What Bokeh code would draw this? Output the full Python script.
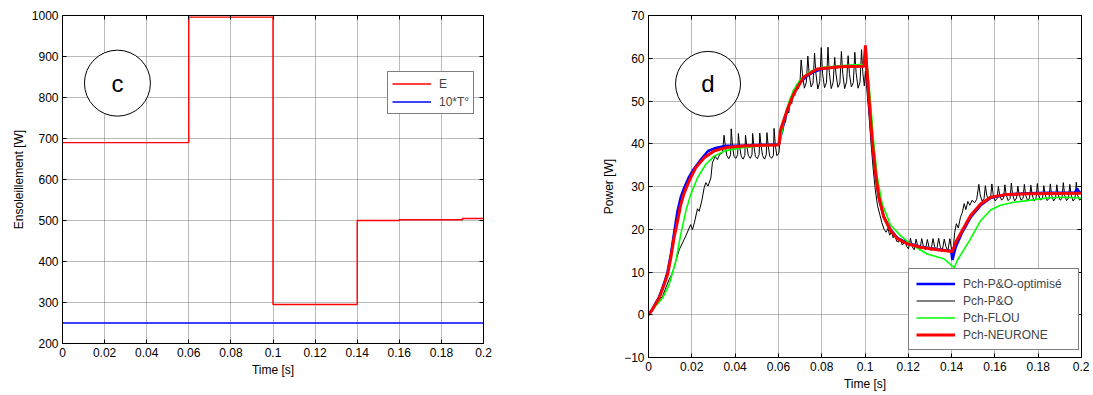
from bokeh.plotting import figure
from bokeh.layouts import row
from bokeh.models import (Range1d, FixedTicker, LinearAxis, Legend, LegendItem)
from bokeh.embed import file_html
from bokeh.resources import INLINE
from bokeh.core.properties import value

# ---------------- data ----------------
x_ticks = [0, 0.02, 0.04, 0.06, 0.08, 0.1, 0.12, 0.14, 0.16, 0.18, 0.2]
x_tick_labels = ["0", "0.02", "0.04", "0.06", "0.08", "0.1", "0.12", "0.14", "0.16", "0.18", "0.2"]
c_y_ticks = [200, 300, 400, 500, 600, 700, 800, 900, 1000]
d_y_ticks = [-10, 0, 10, 20, 30, 40, 50, 60, 70]

# panel c : irradiance steps and 10*T
E_t = [0, 0.06, 0.1, 0.14, 0.16, 0.19, 0.2]
E_v = [690, 996, 295, 500, 502, 505, 505]
T_t = [0, 0.2]
T_v = [250, 250]

# panel d : power curves
blue_t = [0, 0.0018, 0.0049, 0.0072, 0.0088, 0.0103, 0.0118, 0.0134, 0.0149, 0.0165, 0.0185,
          0.0203, 0.0242, 0.0275, 0.031, 0.036, 0.044, 0.05, 0.06, 0.0605, 0.062, 0.064, 0.066,
          0.068, 0.07, 0.073, 0.076, 0.08, 0.085, 0.09, 0.095, 0.0998, 0.1003, 0.1008, 0.1018,
          0.1033, 0.1049, 0.1064, 0.1087, 0.1118, 0.1149, 0.1195, 0.1256, 0.1333, 0.1398, 0.1404,
          0.1412, 0.142, 0.1449, 0.1488, 0.1534, 0.158, 0.165, 0.175, 0.185, 0.197, 0.198, 0.199, 0.2]
blue_v = [0, 1.3, 4.1, 7.3, 10.0, 14.0, 19.0, 24.2, 27.5, 29.7, 32.0,
          33.6, 36.3, 38.3, 39.0, 39.5, 39.6, 39.7, 39.8, 40.5, 43.8, 47.8, 50.7,
          52.8, 54.3, 55.8, 56.7, 57.5, 57.9, 58.1, 58.2, 58.2, 62.0, 57.5, 50.5,
          40.5, 32.8, 27.4, 22.9, 19.9, 18.0, 16.8, 15.9, 15.3, 14.9, 12.8,
          14.5, 16.0, 19.3, 22.8, 25.6, 27.3, 28.1, 28.4, 28.5, 28.6, 29.5, 28.6, 28.6]

black_t = [0, 0.0034, 0.0065, 0.008, 0.0095, 0.0111, 0.0126, 0.0142, 0.0157, 0.0172, 0.0188,
           0.0195, 0.0203, 0.0212, 0.0226, 0.0234, 0.0246, 0.0257, 0.0265, 0.0275, 0.0288,
           0.0295, 0.0308, 0.0318, 0.0329, 0.0342,
           0.0349, 0.0355, 0.0362, 0.0371, 0.0379,
           0.0382, 0.0388, 0.0395, 0.0404, 0.0412,
           0.0415, 0.0421, 0.0428, 0.0437, 0.0445,
           0.0448, 0.0454, 0.0461, 0.047, 0.0478,
           0.0481, 0.0487, 0.0494, 0.0503, 0.0511,
           0.0514, 0.052, 0.0527, 0.0536, 0.0544,
           0.0547, 0.0553, 0.056, 0.0569, 0.0577,
           0.058, 0.0586, 0.0593, 0.0602,
           0.0608, 0.0615, 0.062, 0.0627, 0.0633, 0.064, 0.0648, 0.0655, 0.0662, 0.0669,
           0.0676, 0.0684, 0.0692, 0.07,
           0.0705, 0.0711, 0.072, 0.0729,
           0.0736, 0.0742, 0.0751, 0.076,
           0.0767, 0.0773, 0.0782, 0.0791,
           0.0798, 0.0804, 0.0813, 0.0822,
           0.0829, 0.0835, 0.0844, 0.0853,
           0.086, 0.0866, 0.0875, 0.0884,
           0.0891, 0.0897, 0.0906, 0.0915,
           0.0922, 0.0928, 0.0937, 0.0946,
           0.0953, 0.0959, 0.0968, 0.0977,
           0.0984, 0.099, 0.0997,
           0.1002, 0.1008, 0.1018, 0.1028, 0.1038, 0.1048, 0.1058, 0.1068, 0.1078, 0.1088,
           0.1098, 0.1106, 0.1114, 0.1122, 0.113, 0.1138, 0.1146, 0.1155, 0.1163, 0.1172, 0.118,
           0.1184, 0.1192, 0.1201,
           0.121, 0.1218, 0.1227,
           0.1236, 0.1244, 0.1253,
           0.1262, 0.127, 0.1279,
           0.1288, 0.1296, 0.1305,
           0.1314, 0.1322, 0.1331,
           0.134, 0.1348, 0.1357,
           0.1366, 0.1374, 0.1383,
           0.1392, 0.14,
           0.1408, 0.1414, 0.1422, 0.1431, 0.1441, 0.145, 0.1458, 0.1466, 0.1475, 0.1484,
           0.1495, 0.1506, 0.1516,
           0.1526, 0.1532, 0.1541, 0.155,
           0.1556, 0.1562, 0.1571, 0.158,
           0.1586, 0.1592, 0.1601, 0.161,
           0.1616, 0.1622, 0.1631, 0.164,
           0.1646, 0.1652, 0.1661, 0.167,
           0.1676, 0.1682, 0.1691, 0.17,
           0.1706, 0.1712, 0.1721, 0.173,
           0.1736, 0.1742, 0.1751, 0.176,
           0.1766, 0.1772, 0.1781, 0.179,
           0.1796, 0.1802, 0.1811, 0.182,
           0.1826, 0.1832, 0.1841, 0.185,
           0.1856, 0.1862, 0.1871, 0.188,
           0.1886, 0.1892, 0.1901, 0.191,
           0.1916, 0.1922, 0.1931, 0.194,
           0.1946, 0.1952, 0.1961, 0.197,
           0.1976, 0.1982, 0.1991, 0.2]
black_v = [0, 2.3, 4.3, 6.3, 8.2, 9.8, 12.5, 15.2, 16.8, 18.4, 20.3,
           21.1, 19.9, 21.5, 24.8, 24.2, 26.6, 29.7, 30.9, 30.1, 32.0,
           35.5, 37.1, 36.3, 37.5, 37.9,
           42.0, 39.5, 37.2, 36.5, 37.4,
           43.5, 39.6, 37.0, 36.6, 37.5,
           42.4, 39.4, 37.1, 36.4, 37.3,
           42.0, 39.5, 37.3, 36.6, 37.4,
           42.4, 39.4, 37.0, 36.5, 37.5,
           42.5, 39.6, 37.2, 36.4, 37.4,
           42.6, 39.5, 37.1, 36.6, 37.3,
           43.6, 39.6, 37.2, 37.8,
           40.8, 43.5, 42.8, 46.2, 45.0, 48.3, 47.2, 50.5, 49.4, 52.6,
           51.3, 54.0, 52.8, 54.6,
           59.6, 56.5, 53.0, 54.4,
           60.5, 56.3, 53.3, 54.2,
           61.2, 56.6, 52.8, 54.5,
           62.5, 56.4, 53.1, 54.3,
           62.6, 56.7, 52.9, 54.4,
           60.2, 56.3, 53.2, 54.2,
           61.6, 56.5, 52.9, 54.5,
           60.6, 56.4, 53.3, 54.3,
           61.4, 56.6, 53.0, 54.4,
           62.0, 56.5, 53.5,
           57.0, 53.0, 47.0, 40.0, 34.0, 29.0, 25.5, 23.5, 21.5, 20.0,
           19.3, 20.2, 18.6, 19.5, 18.0, 18.9, 17.2, 17.0, 17.9, 16.3, 16.8,
           17.6, 16.0, 15.4,
           17.9, 15.9, 15.2,
           17.7, 16.0, 15.1,
           17.8, 15.9, 15.2,
           17.6, 15.8, 15.0,
           17.8, 15.9, 15.1,
           17.9, 15.8, 15.0,
           17.7, 15.9, 15.0,
           17.8, 15.2,
           15.5, 19.2, 21.3, 20.3, 22.8, 24.0, 26.0, 24.6, 26.5, 25.6,
           26.8, 26.2, 27.0,
           30.5, 28.0, 26.6, 27.2,
           30.2, 28.0, 26.7, 27.3,
           30.6, 28.1, 26.6, 27.2,
           30.0, 28.0, 26.8, 27.3,
           30.4, 28.1, 26.7, 27.2,
           30.8, 28.0, 26.6, 27.3,
           30.1, 28.1, 26.8, 27.2,
           30.5, 28.0, 26.7, 27.3,
           30.3, 28.1, 26.6, 27.2,
           30.7, 28.0, 26.8, 27.3,
           30.2, 28.1, 26.7, 27.2,
           30.6, 28.0, 26.6, 27.3,
           30.4, 28.1, 26.8, 27.2,
           30.9, 28.0, 26.7, 27.3,
           30.5, 28.1, 26.6, 27.2,
           31.0, 28.0, 26.8, 27.2]

green_t = [0, 0.0018, 0.0065, 0.0095, 0.0126, 0.0149, 0.0172, 0.0195, 0.0226, 0.0265, 0.0303,
           0.0357, 0.0434, 0.05, 0.06, 0.061, 0.063, 0.065, 0.067, 0.07, 0.075, 0.08, 0.09,
           0.0998, 0.1004, 0.1012, 0.1025, 0.104, 0.1056, 0.1079, 0.1118, 0.1164, 0.121, 0.1287,
           0.1364, 0.1405, 0.1412, 0.1426, 0.1449, 0.1488, 0.1534, 0.158, 0.1626, 0.1687, 0.1749,
           0.1841, 0.192, 0.2]
green_v = [0, 1.2, 3.9, 7.0, 12.5, 18.8, 24.2, 28.1, 32.0, 35.2, 37.1,
           38.4, 39.1, 39.4, 39.7, 41.0, 46.5, 50.0, 52.5, 55.0, 57.0, 57.8, 58.3,
           58.6, 59.5, 57.5, 50.0, 40.5, 32.5, 26.0, 21.0, 18.5, 16.6, 14.2,
           13.1, 11.3, 11.0, 12.7, 14.6, 17.8, 22.0, 24.5, 25.6, 26.3, 26.7,
           27.3, 27.5, 27.3]

red_t = [0, 0.0018, 0.0049, 0.0072, 0.0088, 0.0103, 0.0118, 0.0134, 0.0149, 0.0165, 0.0188,
         0.0218, 0.0257, 0.0303, 0.0357, 0.0434, 0.05, 0.0598, 0.0603, 0.0609, 0.064, 0.0671,
         0.0717, 0.0779, 0.0887, 0.0995, 0.1002, 0.1007, 0.1018, 0.1033, 0.1049, 0.1064,
         0.1087, 0.1118, 0.1149, 0.1195, 0.1256, 0.1333, 0.1403, 0.142, 0.1449, 0.1488,
         0.1534, 0.158, 0.165, 0.175, 0.2]
red_v = [0, 1.2, 3.9, 7.0, 9.4, 13.3, 18.0, 21.9, 25.8, 28.5, 31.3,
         34.4, 36.7, 38.3, 39.1, 39.5, 39.6, 39.7, 40.0, 43.1, 47.8, 51.7,
         55.6, 57.5, 58.0, 58.1, 63.0, 58.7, 50.9, 40.8, 33.0, 27.5,
         22.8, 19.7, 17.8, 16.6, 15.8, 15.2, 14.8, 17.0, 19.7, 23.2,
         25.9, 27.5, 28.1, 28.3, 28.4]

FONT = "Liberation Sans"


def style(p, yticks, xlabel, ylabel, ylabel_standoff):
    p.x_range = Range1d(0, 0.2)
    p.background_fill_color = "white"
    p.border_fill_color = "white"
    p.outline_line_color = "black"
    p.outline_line_width = 1
    xt = FixedTicker(ticks=x_ticks)
    yt = FixedTicker(ticks=yticks)
    xa = p.below[0]
    ya = p.left[0]
    xa.ticker = xt
    ya.ticker = yt
    xa.major_label_overrides = dict(zip(x_ticks, x_tick_labels))
    xa.axis_label = xlabel
    ya.axis_label = ylabel
    for ax in (xa, ya):
        ax.major_tick_in = 4
        ax.major_tick_out = 0
        ax.minor_tick_line_color = None
        ax.axis_line_color = "black"
        ax.major_tick_line_color = "black"
        ax.major_label_text_font = FONT
        ax.major_label_text_font_size = "12px"
        ax.major_label_text_color = "black"
        ax.axis_label_text_font = FONT
        ax.axis_label_text_font_size = "12px"
        ax.axis_label_text_font_style = "normal"
        ax.axis_label_text_color = "black"
    xa.major_label_standoff = 4
    xa.axis_label_standoff = 3
    ya.major_label_standoff = 4
    ya.axis_label_standoff = ylabel_standoff
    for g in (p.xgrid, p.ygrid):
        g.grid_line_color = "#555555"
        g.grid_line_dash = "1 1"
        g.grid_line_alpha = 0.8
    p.xgrid.ticker = xt
    p.ygrid.ticker = yt
    for loc, tk in (("above", xt), ("right", yt)):
        a = LinearAxis(ticker=tk, major_tick_in=4, major_tick_out=0,
                       minor_tick_line_color=None, major_label_text_color=None,
                       major_label_text_font_size="1px",
                       major_label_standoff=0, axis_line_color="black")
        p.add_layout(a, loc)


# ---------------- panel c ----------------
pc = figure(width=540, height=379, output_backend="svg", toolbar_location=None,
            min_border_left=62, min_border_right=57, min_border_top=15, min_border_bottom=36,
            y_range=Range1d(200, 1000))
style(pc, c_y_ticks, "Time [s]", "Ensoleillement [W]", 3)
rE = pc.step(E_t, E_v, mode="after", line_color="#ff0000", line_width=1.4)
rT = pc.line(T_t, T_v, line_color="#0000ff", line_width=1.4)
pc.scatter([0.0261], [835], marker="circle", size=66, fill_color="white",
           line_color="black", line_width=1)
pc.text([0.0261], [835], text=["c"], text_align="center", text_baseline="middle",
        text_font=value(FONT), text_font_size="24px", text_color="black")
leg_c = Legend(items=[LegendItem(label="E", renderers=[rE]),
                      LegendItem(label="10*T°", renderers=[rT])],
               location=(325, 229), margin=0, padding=4, spacing=3,
               glyph_width=39, glyph_height=15, label_height=15, label_standoff=8,
               label_text_font=FONT, label_text_font_size="12px",
               border_line_color="black", border_line_width=1.5,
               background_fill_color="white", background_fill_alpha=1)
pc.add_layout(leg_c)

# ---------------- panel d ----------------
pd_ = figure(width=549, height=393, output_backend="svg", toolbar_location=None,
             min_border_left=108, min_border_right=8, min_border_top=15, min_border_bottom=36,
             y_range=Range1d(-10, 70))
style(pd_, d_y_ticks, "Time [s]", "Power [W]", 5)
rK = pd_.line(black_t, black_v, line_color="black", line_width=1)
rB = pd_.line(blue_t, blue_v, line_color="#0000ff", line_width=2.6)
rG = pd_.line(green_t, green_v, line_color="#00ff00", line_width=1.6)
rR = pd_.line(red_t, red_v, line_color="#ff0000", line_width=3)
pd_.scatter([0.0275], [54.0], marker="circle", size=65, fill_color="white",
            line_color="black", line_width=1)
pd_.text([0.0275], [54.0], text=["d"], text_align="center", text_baseline="middle",
         text_font=value(FONT), text_font_size="24px", text_color="black")
leg_d = Legend(items=[LegendItem(label="Pch-P&O-optimisé", renderers=[rB]),
                      LegendItem(label="Pch-P&O", renderers=[rK]),
                      LegendItem(label="Pch-FLOU", renderers=[rG]),
                      LegendItem(label="Pch-NEURONE", renderers=[rR])],
               location=(260, 7), margin=0, padding=7, spacing=2,
               glyph_width=39, glyph_height=15, label_height=15, label_standoff=8,
               label_width=108,
               label_text_font=FONT, label_text_font_size="12px",
               border_line_color="black", border_line_width=1.5,
               background_fill_color="white", background_fill_alpha=1)
pd_.add_layout(leg_d)

layout = row(pc, pd_)
open("out.html", "w").write(file_html(layout, INLINE))
